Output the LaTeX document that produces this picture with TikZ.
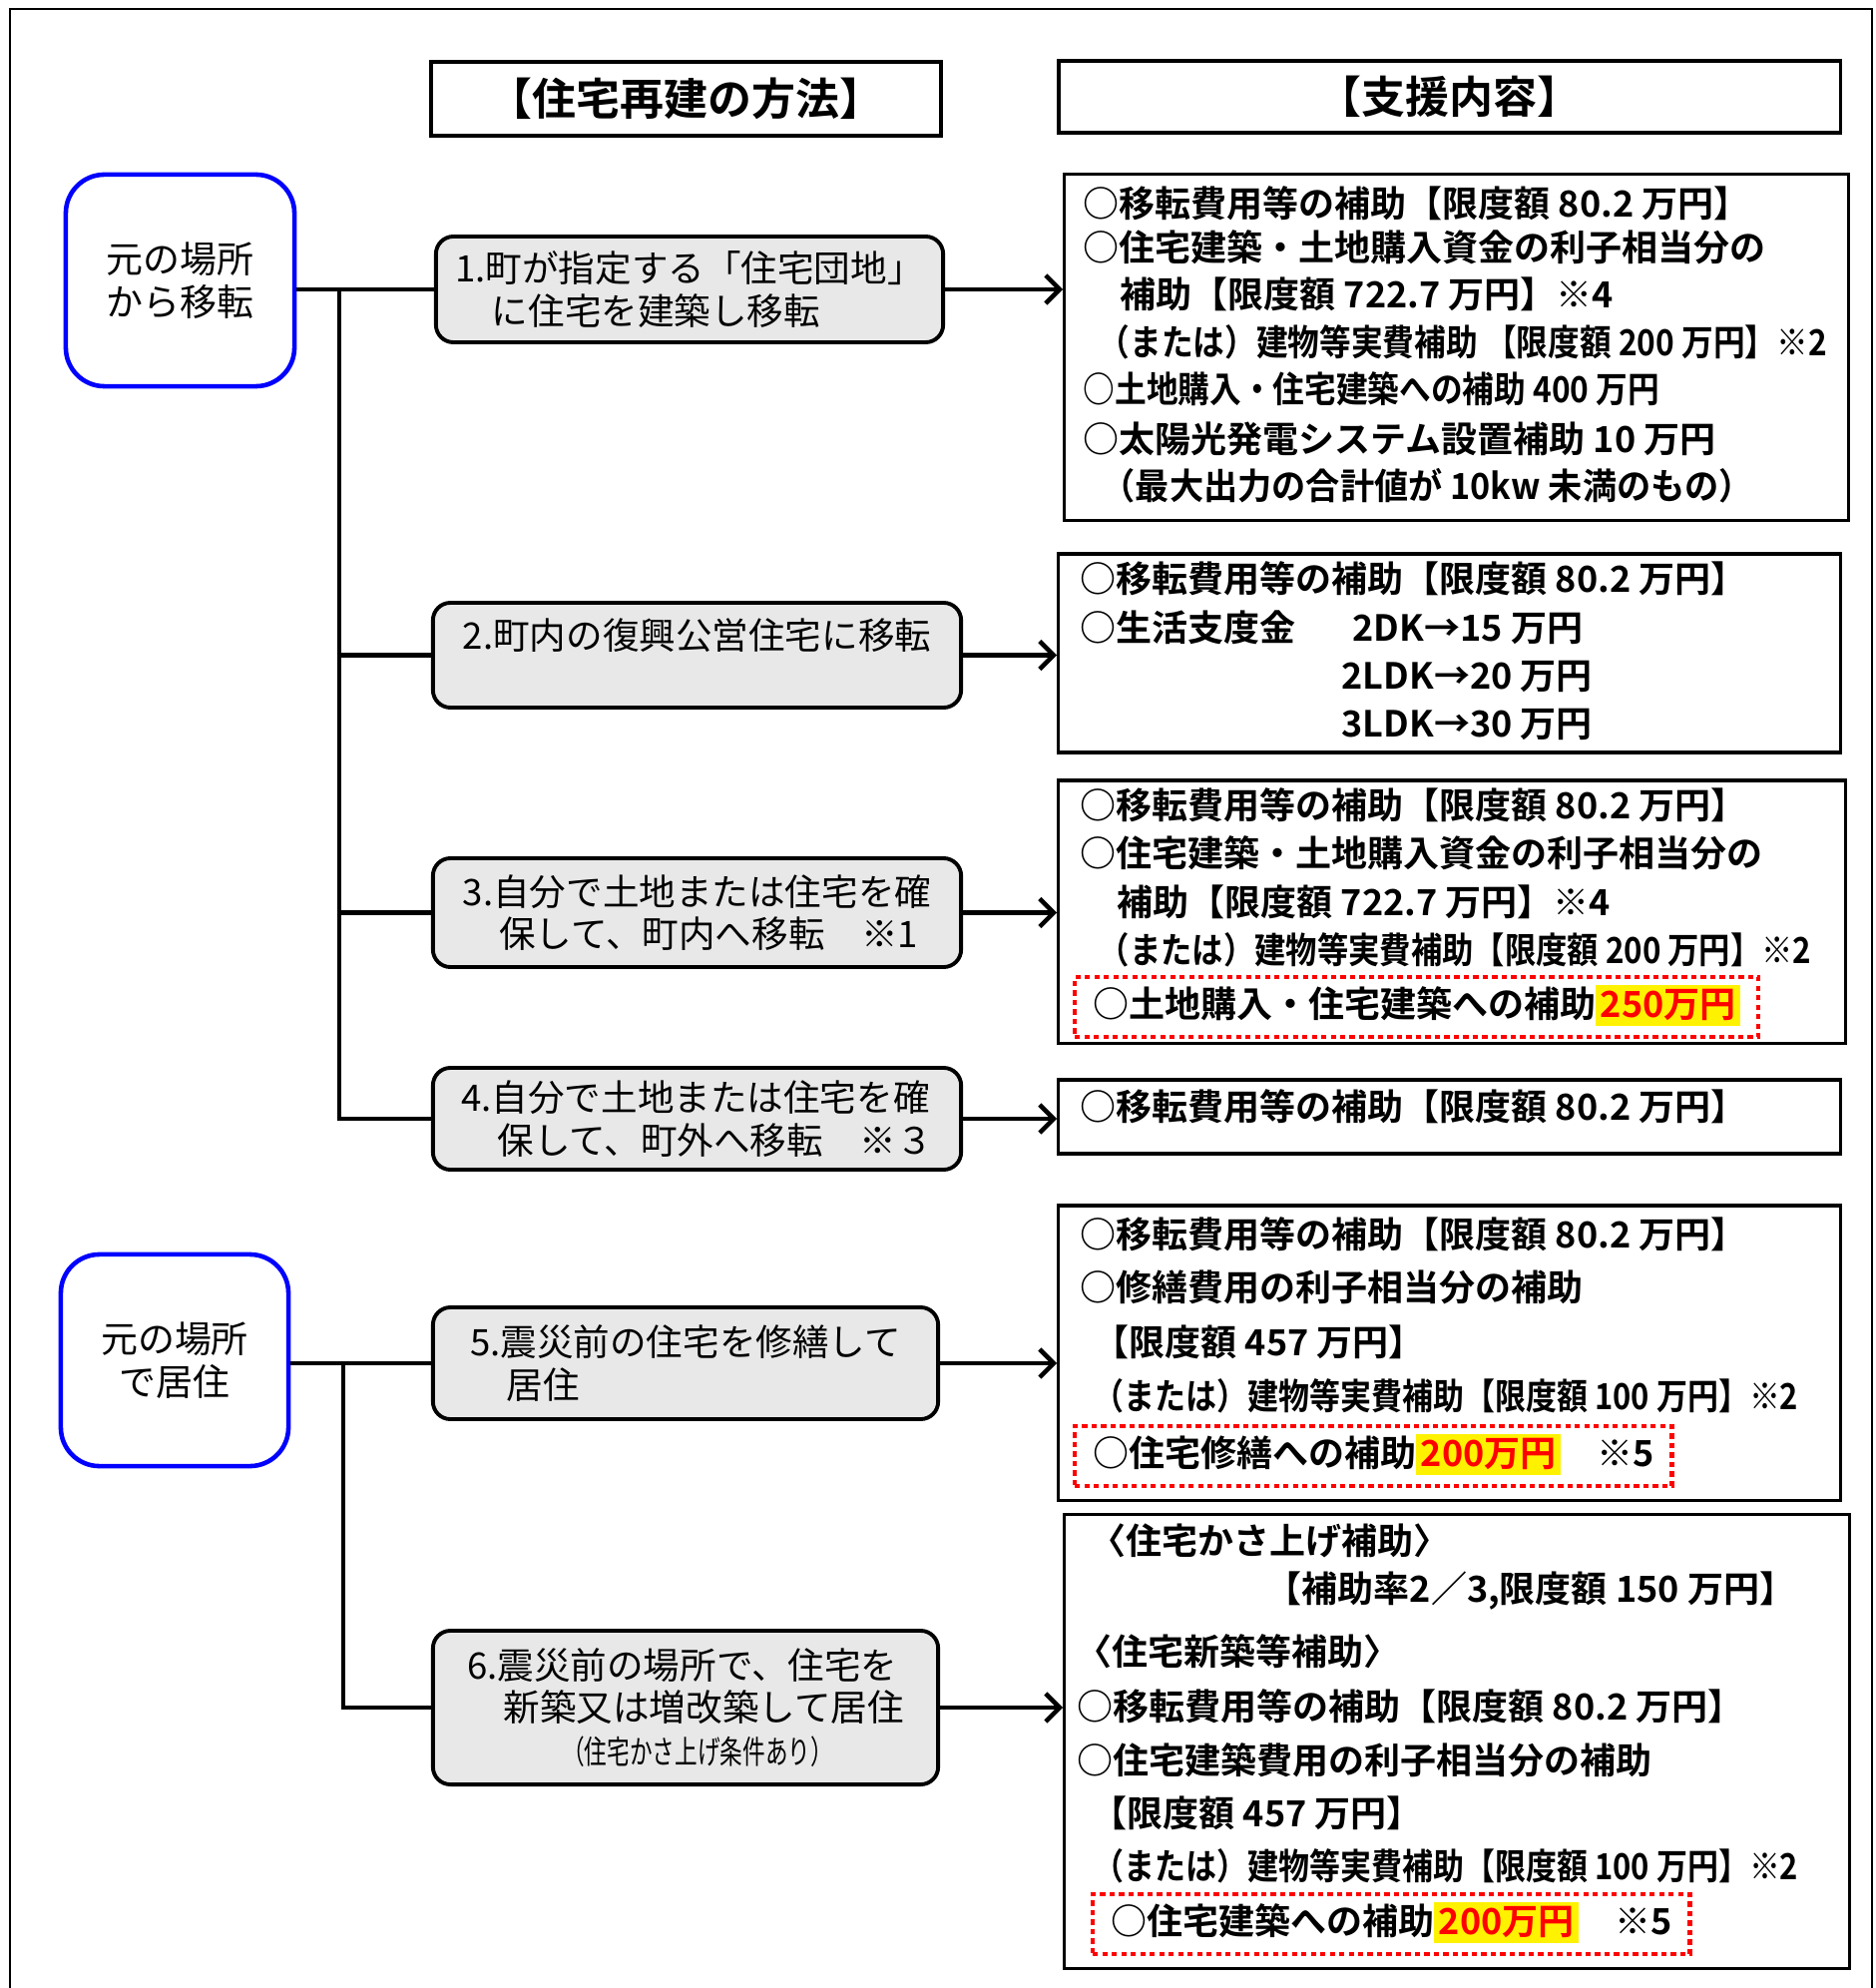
\documentclass[tikz,border=0pt]{standalone}
\usepackage{fontspec}
\usepackage{graphicx}
\usetikzlibrary{arrows.meta}
\newfontfamily\jpfont{Noto Sans CJK JP}
\newfontfamily\jpbold{Noto Sans CJK JP Bold}
\definecolor{boxgrey}{RGB}{232,232,232}
\newcommand{\yellowmark}[1]{{\setlength{\fboxsep}{1.3pt}\colorbox{yellow}{\textcolor{red}{#1}}}}
\newcommand{\narrowx}[2]{\scalebox{#1}[1]{#2}}

\begin{document}
\begin{tikzpicture}[x=0.01cm, y=-0.01cm, >={Straight Barb[length=4pt,width=8pt]},
  head/.style={draw, line width=1pt, inner sep=0pt, font=\jpbold\fontsize{12.5}{14}\selectfont},
  place/.style={draw=blue, line width=1.3pt, rounded corners=11pt, inner sep=0pt, align=center, font=\jpfont\fontsize{10.5}{12.2}\selectfont},
  method/.style={draw, fill=boxgrey, line width=1.1pt, rounded corners=5pt, inner sep=0pt, align=left, font=\jpfont\fontsize{10.4}{12}\selectfont},
  support/.style={draw, line width=0.9pt, inner sep=0pt},
  item/.style={anchor=west, inner sep=0pt, text height=8.2pt, text depth=2pt, font=\jpbold\fontsize{10.24}{12}\selectfont},
  redbox/.style={item, draw=red, line width=1.2pt, dash pattern=on 1.5pt off 1.2pt, inner xsep=0.18cm, inner ysep=0.12cm},
  link/.style={line width=1.3pt}]
\useasboundingbox (0,0) rectangle (1879,1992);
\draw [line width=0.6pt] (10,1992) -- (10,9) -- (1876,9) -- (1876,1992);

\node [head, minimum width=5.11cm, minimum height=0.74cm] (hmethod) at (687.5,99) {【住宅再建の方法】};
\node [head, minimum width=7.83cm, minimum height=0.72cm] (hsupport) at (1452.5,97) {【支援内容】};

\node [place, minimum width=2.29cm, minimum height=2.12cm] (from) at (180.5,281) {元の場所\\から移転};
\node [place, minimum width=2.28cm, minimum height=2.12cm] (stay) at (175,1363) {元の場所\\で居住};

\node [method, minimum width=5.08cm, minimum height=1.06cm] (m1) at (691,290) {1.町が指定する「住宅団地」\\　に住宅を建築し移転};
\node [method, minimum width=5.29cm, minimum height=1.05cm] (m2) at (698.5,656.5) {2.町内の復興公営住宅に移転\\\mbox{}};
\node [method, minimum width=5.29cm, minimum height=1.09cm] (m3) at (698.5,914.5) {3.自分で土地または住宅を確\\　保して、町内へ移転　※1};
\node [method, minimum width=5.29cm, minimum height=1.02cm] (m4) at (698.5,1121) {4.自分で土地または住宅を確\\　保して、町外へ移転　※３};
\node [method, minimum width=5.06cm, minimum height=1.12cm] (m5) at (687,1366) {5.震災前の住宅を修繕して\\　居住};
\node [method, minimum width=5.06cm, minimum height=1.54cm] (m6) at (687,1711) {6.震災前の場所で、住宅を\\　新築又は増改築して居住\\\hspace*{0.95cm}{\fontsize{9.2}{11}\selectfont\narrowx{0.7}{（住宅かさ上げ条件あり）}}};

\node [support, minimum width=7.85cm, minimum height=3.46cm] (s1) at (1459.5,348) {};
\node [support, minimum width=7.83cm, minimum height=1.99cm] (s2) at (1452.5,654.5) {};
\node [support, minimum width=7.88cm, minimum height=2.63cm] (s3) at (1455,913.5) {};
\node [support, minimum width=7.83cm, minimum height=0.74cm] (s4) at (1452.5,1119) {};
\node [support, minimum width=7.83cm, minimum height=2.95cm] (s5) at (1452.5,1355.5) {};
\node [support, minimum width=7.86cm, minimum height=4.54cm] (s6) at (1460,1745) {};

\node [item] (s1a) at (1085,207) {○移転費用等の補助【限度額 80.2 万円】};
\node [item] (s1b) at (1085,251) {○住宅建築・土地購入資金の利子相当分の};
\node [item] (s1c) at (1122,298) {補助【限度額 722.7 万円】※4};
\node [item] (s1d) at (1100,346) {\narrowx{0.88}{（または）建物等実費補助 【限度額 200 万円】※2}};
\node [item] (s1e) at (1085,393) {\narrowx{0.88}{○土地購入・住宅建築への補助 400 万円}};
\node [item] (s1f) at (1085,443) {○太陽光発電システム設置補助 10 万円};
\node [item] (s1g) at (1103,490) {\narrowx{0.95}{（最大出力の合計値が 10kw 未満のもの）}};

\node [item] (s2a) at (1082,583) {○移転費用等の補助【限度額 80.2 万円】};
\node [item] (s2b) at (1082,632) {○生活支度金};
\node [item] (s2c) at (1355,632) {2DK→15 万円};
\node [item] (s2d) at (1344,680) {2LDK→20 万円};
\node [item] (s2e) at (1344,728) {3LDK→30 万円};

\node [item] (s3a) at (1082,810) {○移転費用等の補助【限度額 80.2 万円】};
\node [item] (s3b) at (1082,858) {○住宅建築・土地購入資金の利子相当分の};
\node [item] (s3c) at (1119,907) {補助【限度額 722.7 万円】※4};
\node [item] (s3d) at (1100,955) {\narrowx{0.87}{（または）建物等実費補助【限度額 200 万円】※2}};
\node [redbox] (s3e) at (1075,1009) {○土地購入・住宅建築への補助\yellowmark{250万円}};

\node [item] (s4a) at (1082,1112) {○移転費用等の補助【限度額 80.2 万円】};

\node [item] (s5a) at (1082,1240) {○移転費用等の補助【限度額 80.2 万円】};
\node [item] (s5b) at (1082,1293) {○修繕費用の利子相当分の補助};
\node [item] (s5c) at (1095,1348) {【限度額 457 万円】};
\node [item] (s5d) at (1095,1402) {\narrowx{0.86}{（または）建物等実費補助【限度額 100 万円】※2}};
\node [redbox] (s5e) at (1075,1459) {○住宅修繕への補助\yellowmark{200万円}　※5};

\node [item] (s6a) at (1092,1547) {〈住宅かさ上げ補助〉};
\node [item] (s6b) at (1268,1595) {【補助率2／3,限度額 150 万円】};
\node [item] (s6c) at (1078,1658) {〈住宅新築等補助〉};
\node [item] (s6d) at (1079,1713) {○移転費用等の補助【限度額 80.2 万円】};
\node [item] (s6e) at (1079,1767) {○住宅建築費用の利子相当分の補助};
\node [item] (s6f) at (1093,1820) {【限度額 457 万円】};
\node [item] (s6g) at (1095,1873) {\narrowx{0.86}{（または）建物等実費補助【限度額 100 万円】※2}};
\node [redbox] (s6h) at (1093,1928) {○住宅建築への補助\yellowmark{200万円}　※5};

\coordinate (trunkA) at (340,290);
\coordinate (trunkB) at (344,1366);
\draw [link] (from.east |- m1.west) -- (m1.west);
\draw [link] (trunkA) |- (m4.west);
\draw [link] (trunkA |- m2.west) -- (m2.west);
\draw [link] (trunkA |- m3.west) -- (m3.west);
\draw [link] (stay.east |- m5.west) -- (m5.west);
\draw [link] (trunkB) |- (m6.west);
\draw [link, ->] (m1.east) -- (m1.east -| s1.west);
\draw [link, ->] (m2.east) -- (m2.east -| s2.west);
\draw [link, ->] (m3.east) -- (m3.east -| s3.west);
\draw [link, ->] (m4.east) -- (m4.east -| s4.west);
\draw [link, ->] (m5.east) -- (m5.east -| s5.west);
\draw [link, ->] (m6.east) -- (m6.east -| s6.west);
\end{tikzpicture}
\end{document}
